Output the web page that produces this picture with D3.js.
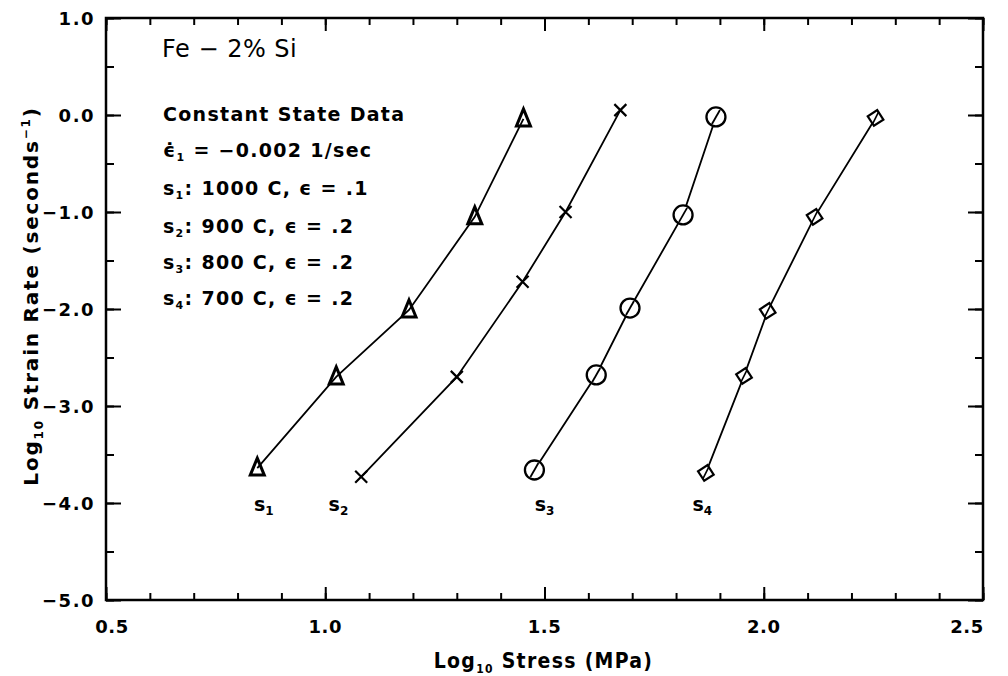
<!DOCTYPE html>
<html>
<head>
<meta charset="utf-8">
<script src="https://cdn.jsdelivr.net/npm/d3@7"></script>
<style>
  body { margin: 0; background: #fff; }
  svg text { font-family: "DejaVu Sans", sans-serif; fill: #000; }
</style>
</head>
<body>
<div id="chart"></div>
<script>
// data (log10 stress MPa, log10 strain rate 1/s)
const stressS1 = [0.845, 1.025, 1.191, 1.341, 1.452]
const rateS1   = [-3.64, -2.70, -2.01, -1.05, -0.04]
const stressS2 = [1.082, 1.300, 1.450, 1.548, 1.673]
const rateS2   = [-3.73, -2.70, -1.72, -1.00, 0.05]
const stressS3 = [1.477, 1.618, 1.695, 1.816, 1.891]
const rateS3   = [-3.66, -2.68, -1.99, -1.03, -0.02]
const stressS4 = [1.868, 1.955, 2.009, 2.116, 2.255]
const rateS4   = [-3.69, -2.69, -2.02, -1.05, -0.03]

const seriesNames = ["1", "2", "3", "4"]
const labelX = [0.86, 1.03, 1.50, 1.86]
const labelY = -4.0

const xTicks = [0.5, 1.0, 1.5, 2.0, 2.5]
const yTicks = [1.0, 0.0, -1.0, -2.0, -3.0, -4.0, -5.0]

const width = 1008, height = 676
const margin = {top: 18, right: 25, bottom: 76, left: 106}

let svg = d3.select("#chart").append("svg")
  .attr("width", width)
  .attr("height", height)

let x = d3.scaleLinear().domain([0.5, 2.5]).range([margin.left, width - margin.right])
let y = d3.scaleLinear().domain([-5, 1]).range([height - margin.bottom, margin.top])

const fmt = d3.format(".1f")
const minus = s => s.replace("-", "\u2212")

// minor + major ticks, pointing inward on all four sides
function tickAxis(axis, scale, vals, len) {
  return axis(scale).tickValues(vals).tickSize(-len).tickFormat("")
}
const xMinor = d3.range(0.5, 2.51, 0.1)
const yMinor = d3.range(-5, 1.01, 0.5)

let ax = svg.append("g").attr("class", "axes")
ax.append("g").attr("transform", `translate(0,${y(-5)})`).call(tickAxis(d3.axisBottom, x, xMinor, 7))
ax.append("g").attr("transform", `translate(0,${y(-5)})`).call(tickAxis(d3.axisBottom, x, xTicks, 13))
ax.append("g").attr("transform", `translate(0,${y(1)})`).call(tickAxis(d3.axisTop, x, xMinor, 7))
ax.append("g").attr("transform", `translate(0,${y(1)})`).call(tickAxis(d3.axisTop, x, xTicks, 13))
ax.append("g").attr("transform", `translate(${x(0.5)},0)`).call(tickAxis(d3.axisLeft, y, yMinor, 8))
ax.append("g").attr("transform", `translate(${x(0.5)},0)`).call(tickAxis(d3.axisLeft, y, yTicks, 15))
ax.append("g").attr("transform", `translate(${x(2.5)},0)`).call(tickAxis(d3.axisRight, y, yMinor, 8))
ax.append("g").attr("transform", `translate(${x(2.5)},0)`).call(tickAxis(d3.axisRight, y, yTicks, 15))
ax.selectAll(".domain").remove()
ax.selectAll(".tick line").attr("stroke", "#000").attr("stroke-width", 2)

// frame
svg.append("rect")
  .attr("x", x(0.5)).attr("y", y(1))
  .attr("width", x(2.5) - x(0.5)).attr("height", y(-5) - y(1))
  .attr("fill", "none").attr("stroke", "#000").attr("stroke-width", 2.5)

// tick labels
svg.append("g").selectAll("text").data(xTicks).enter().append("text")
  .attr("x", d => x(d) + (d == 0.5 ? 6 : d == 2.5 ? -16 : 0))
  .attr("y", y(-5) + 33)
  .attr("text-anchor", "middle")
  .style("font-size", "18px").style("font-weight", "bold").style("letter-spacing", "0.5px")
  .text(d => fmt(d))

svg.append("g").selectAll("text").data(yTicks).enter().append("text")
  .attr("x", x(0.5) - 11)
  .attr("y", d => y(d) + 7)
  .attr("text-anchor", "end")
  .style("font-size", "18px").style("font-weight", "bold").style("letter-spacing", "1.5px")
  .text(d => minus(fmt(d)))

// axis titles
let xt = svg.append("text")
  .attr("x", x(1.5) - 1).attr("y", 668)
  .attr("text-anchor", "middle")
  .style("font-family", "'DejaVu Sans Condensed', sans-serif")
  .style("font-size", "21px").style("font-weight", "bold").style("letter-spacing", "1.3px")
xt.append("tspan").text("Log")
xt.append("tspan").attr("dy", 5).style("font-size", "12px").text("10")
xt.append("tspan").attr("dy", -5).text(" Stress (MPa)")

let yt = svg.append("text")
  .attr("transform", `translate(38,296) rotate(-90)`)
  .attr("text-anchor", "middle")
  .style("font-size", "20px").style("font-weight", "bold").style("letter-spacing", "1.8px")
yt.append("tspan").text("Log")
yt.append("tspan").attr("dy", 5).style("font-size", "12px").text("10")
yt.append("tspan").attr("dy", -5).text(" Strain Rate (seconds")
yt.append("tspan").attr("dy", -8).style("font-size", "12px").text("\u22121")
yt.append("tspan").attr("dy", 8).text(")")

// series lines + markers
const series = [
  {xs: stressS1, ys: rateS1, shape: "tri"},
  {xs: stressS2, ys: rateS2, shape: "cross"},
  {xs: stressS3, ys: rateS3, shape: "circle"},
  {xs: stressS4, ys: rateS4, shape: "diamond"}
]

let line = d3.line().x(d => x(d[0])).y(d => y(d[1]))

series.forEach(s => {
  let pts = s.xs.map((v, i) => [v, s.ys[i]])
  svg.append("path")
    .datum(pts)
    .attr("d", line)
    .attr("fill", "none")
    .attr("stroke", "#000")
    .attr("stroke-width", 1.8)

  let g = svg.append("g").selectAll("g").data(pts).enter().append("g")
    .attr("transform", d => `translate(${x(d[0])},${y(d[1])})`)

  if (s.shape == "tri") {
    g.append("path").attr("d", "M0,-10 L7,7 L-7,7 Z")
      .attr("fill", "none").attr("stroke", "#000").attr("stroke-width", 3)
  } else if (s.shape == "cross") {
    g.append("path").attr("d", "M-6,-6 L6,6 M-6,6 L6,-6")
      .attr("stroke", "#000").attr("stroke-width", 2.2)
  } else if (s.shape == "circle") {
    g.append("circle").attr("r", 9.5)
      .attr("fill", "#fff").attr("stroke", "#000").attr("stroke-width", 2.3)
    g.append("path").attr("d", "M-4,7 L4,-7").attr("stroke", "#000").attr("stroke-width", 1.8)
  } else {
    g.append("path").attr("d", "M0,-8 L8,0 L0,8 L-8,0 Z")
      .attr("transform", "rotate(12)")
      .attr("fill", "#fff").attr("stroke", "#000").attr("stroke-width", 2.2)
    g.append("path").attr("d", "M-3,6 L3,-6").attr("stroke", "#000").attr("stroke-width", 1.6)
  }
})

// series labels under the curves
let lab = svg.append("g").selectAll("text").data(seriesNames).enter().append("text")
  .attr("x", (d, i) => x(labelX[i]))
  .attr("y", y(labelY) + 8)
  .attr("text-anchor", "middle")
  .style("font-size", "19px").style("font-weight", "bold")
lab.append("tspan").text("s")
lab.append("tspan").attr("dy", 4).style("font-size", "12px").text(d => d)

// annotation block
svg.append("text")
  .attr("x", 162).attr("y", 57)
  .style("font-size", "24px").style("letter-spacing", "0.5px")
  .text("Fe \u2212 2% Si")

const noteLines = [
  ["Constant State Data"],
  ["\u03F5\u0307", "1", " = \u22120.002 1/sec"],
  ["s", "1", ": 1000 C, \u03F5 = .1"],
  ["s", "2", ": 900 C, \u03F5 = .2"],
  ["s", "3", ": 800 C, \u03F5 = .2"],
  ["s", "4", ": 700 C, \u03F5 = .2"]
]
const noteY = [121, 157, 195, 233, 269, 305]

noteLines.forEach((parts, i) => {
  let t = svg.append("text")
    .attr("x", 163).attr("y", noteY[i])
    .style("font-size", "19px").style("font-weight", "bold").style("letter-spacing", "1.3px")
  t.append("tspan").text(parts[0])
  if (parts.length > 1) {
    t.append("tspan").attr("dy", 4).style("font-size", "11px").text(parts[1])
    t.append("tspan").attr("dy", -4).text(parts[2])
  }
})
</script>
</body>
</html>
